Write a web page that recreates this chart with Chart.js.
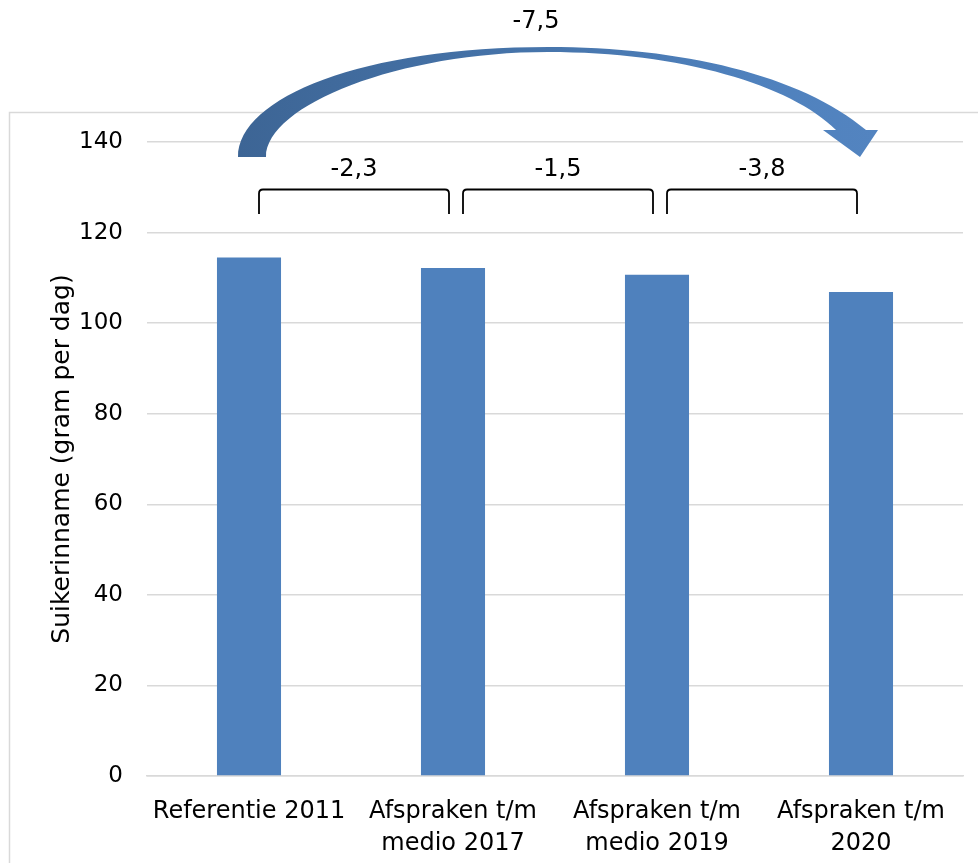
<!DOCTYPE html>
<html>
<head>
<meta charset="utf-8">
<script src="https://cdn.jsdelivr.net/npm/chart.js@4.4.1/dist/chart.umd.min.js"></script>
<style>
  html, body { margin: 0; padding: 0; background: #fff; }
  #wrap { width: 978px; height: 863px; position: relative; }
</style>
</head>
<body>
<div id="wrap"><canvas id="sugarChart"></canvas></div>
<script>
const categories = [['Referentie 2011'], ['Afspraken t/m', 'medio 2017'], ['Afspraken t/m', 'medio 2019'], ['Afspraken t/m', '2020']];
const sugarValues = [114.5, 112.2, 110.7, 106.9];
const stepLabels = ['-2,3', '-1,5', '-3,8'];
const totalLabel = '-7,5';
const yTicks = [0, 20, 40, 60, 80, 100, 120, 140];

const FONT = "'DejaVu Sans', Verdana, sans-serif";

// grey frame around the plot, like the office chart border
const framePlugin = {
    id: 'frame',
    beforeDraw: function (chart) {
        const ctx = chart.ctx;
        ctx.save();
        ctx.strokeStyle = '#d9d9d9';
        ctx.lineWidth = 1.5;
        ctx.strokeRect(9.5, 112.5, chart.width + 20, chart.height + 20);
        ctx.restore();
    }
};

// brackets, step labels and the big curved arrow
const annotePlugin = {
    id: 'annote',
    afterDraw: function (chart) {
        const ctx = chart.ctx;
        const xs = chart.scales.x;
        const top = chart.chartArea.top;
        const cx = sugarValues.map((v, i) => xs.getPixelForValue(i));

        ctx.save();
        ctx.strokeStyle = '#000';
        ctx.lineWidth = 1.8;
        ctx.fillStyle = '#000';
        ctx.font = '24px ' + FONT;
        ctx.textAlign = 'center';
        ctx.textBaseline = 'middle';

        const yLine = top + 47.5, yEnd = top + 72, r = 4;
        for (let i = 0; i < stepLabels.length; i++) {
            const a = cx[i] + 10, b = cx[i + 1] - 4;
            ctx.beginPath();
            ctx.moveTo(a, yEnd);
            ctx.lineTo(a, yLine + r);
            ctx.quadraticCurveTo(a, yLine, a + r, yLine);
            ctx.lineTo(b - r, yLine);
            ctx.quadraticCurveTo(b, yLine, b, yLine + r);
            ctx.lineTo(b, yEnd);
            ctx.stroke();
            ctx.fillText(stepLabels[i], (a + b) / 2, top + 28);
        }

        // curved arrow from first to last bar
        const L = cx[0], R = cx[cx.length - 1], M = L + 299;
        const grad = ctx.createLinearGradient(L - 11, 0, R + 17, 0);
        grad.addColorStop(0, '#3d6595');
        grad.addColorStop(0.45, '#4674aa');
        grad.addColorStop(0.8, '#4f81bd');
        grad.addColorStop(1, '#5384c0');
        ctx.fillStyle = grad;
        ctx.beginPath();
        ctx.moveTo(L - 11, top + 15);
        ctx.bezierCurveTo(L - 11, top - 45, L + 115, top - 95, M, top - 95);
        ctx.bezierCurveTo(R - 180, top - 95, R - 60, top - 67, R + 5, top - 12);
        ctx.lineTo(R + 17, top - 12);
        ctx.lineTo(R - 1, top + 15);
        ctx.lineTo(R - 38, top - 12);
        ctx.lineTo(R - 25, top - 12);
        ctx.bezierCurveTo(R - 70, top - 57, R - 180, top - 90, M, top - 90);
        ctx.bezierCurveTo(L + 151, top - 90, L + 17, top - 37, L + 17, top + 15);
        ctx.closePath();
        ctx.fill();

        ctx.fillStyle = '#000';
        ctx.fillText(totalLabel, L + 287, top - 120);
        ctx.restore();
    }
};

const ctx = document.getElementById('sugarChart').getContext('2d');

new Chart(ctx, {
    type: 'bar',
    data: {
        labels: categories,
        datasets: [{
            data: sugarValues,
            backgroundColor: '#4f81bd',
            barPercentage: 1,
            categoryPercentage: 0.314
        }]
    },
    options: {
        responsive: true,
        maintainAspectRatio: false,
        animation: false,
        layout: {
            padding: { top: 142, right: 15, left: 0, bottom: 0 }
        },
        plugins: {
            legend: { display: false },
            tooltip: { enabled: false }
        },
        scales: {
            x: {
                afterFit: function (scale) { scale.height = 87; },
                grid: { display: false },
                border: { color: '#d9d9d9', width: 1.5 },
                ticks: {
                    color: '#000',
                    font: { family: FONT, size: 24, lineHeight: 1.33 },
                    maxRotation: 0,
                    autoSkip: false,
                    padding: 12
                }
            },
            y: {
                min: 0,
                max: 140,
                afterFit: function (scale) { scale.width = 147; },
                afterBuildTicks: function (scale) {
                    scale.ticks = yTicks.map(v => ({ value: v }));
                },
                grid: { color: '#d9d9d9', lineWidth: 1.5, drawTicks: false },
                border: { display: false },
                ticks: {
                    color: '#000',
                    font: { family: FONT, size: 23 },
                    padding: 24
                },
                title: {
                    display: true,
                    text: 'Suikerinname (gram per dag)',
                    color: '#000',
                    font: { family: FONT, size: 25 },
                    padding: { top: 47, bottom: 0 }
                }
            }
        }
    },
    plugins: [framePlugin, annotePlugin]
});
</script>
</body>
</html>
